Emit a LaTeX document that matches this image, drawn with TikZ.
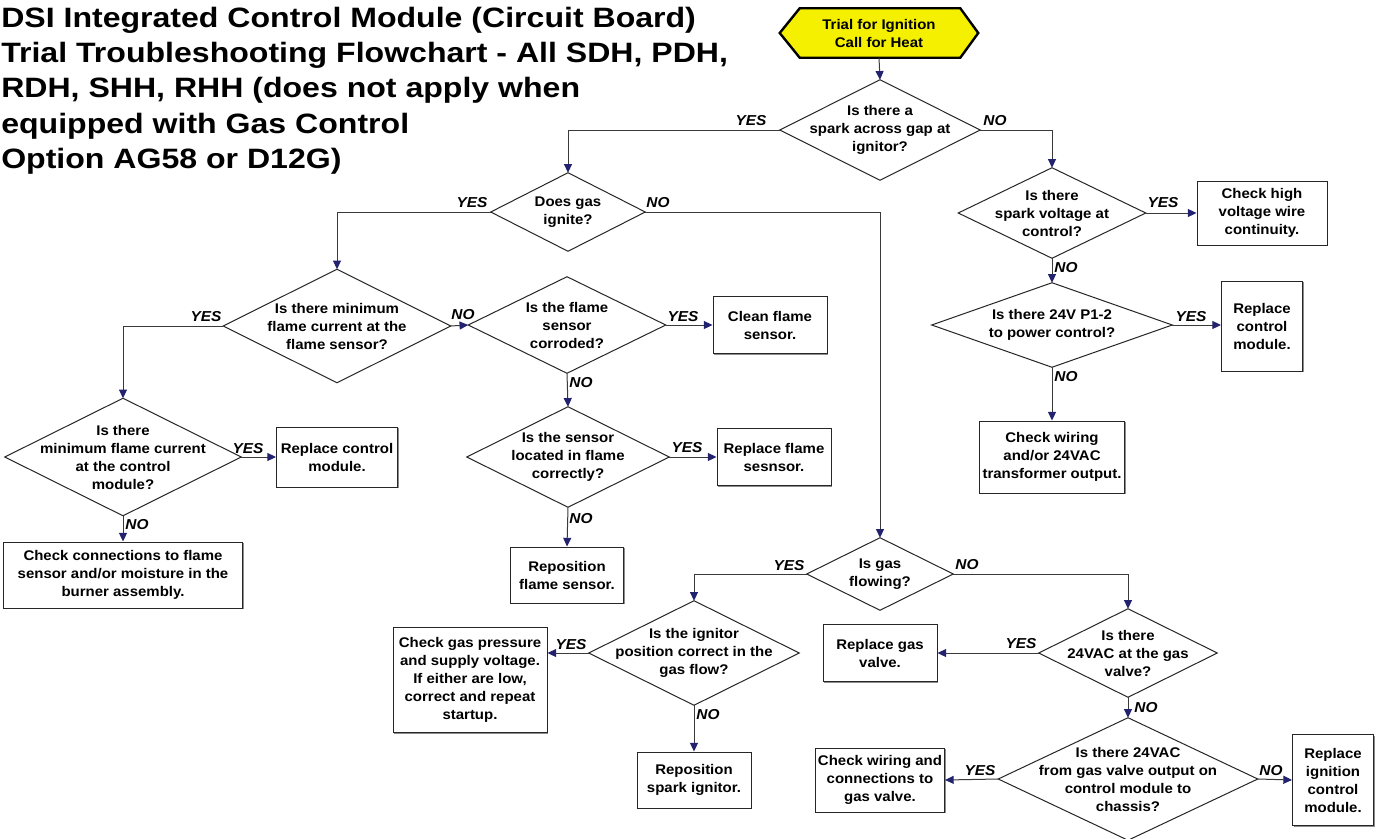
\documentclass[tikz,border=0pt]{standalone}
\usepackage{fontspec}
\setmainfont{Liberation Sans}[FakeStretch=1.07]
\newfontfamily\titlefont{Liberation Sans}[FakeStretch=1.145]
\usetikzlibrary{arrows.meta,calc,backgrounds,shadows}
\definecolor{tipblue}{HTML}{22226E}
\definecolor{linegray}{HTML}{3A3A3A}
\definecolor{hexyellow}{HTML}{F5F000}
\begin{document}
\begin{tikzpicture}[x=0.75pt,y=-0.75pt,
  txt/.style={font=\fontsize{10.5pt}{13.5pt}\selectfont\bfseries, align=center, inner sep=0pt},
  dia/.style 2 args={txt, minimum width=#1*0.75pt, minimum height=#2*0.75pt},
  box/.style 2 args={txt, draw=black!85, line width=0.75pt, fill=white,
     drop shadow={shadow xshift=0.9pt, shadow yshift=-0.9pt, fill=black!45, opacity=1},
     minimum width=#1*0.75pt, minimum height=#2*0.75pt},
  lab/.style={font=\fontsize{10.8pt}{12pt}\selectfont\bfseries\itshape, inner sep=0pt},
  conn/.style={draw=linegray, line width=0.75pt, -{Triangle[length=6.5pt,width=6pt,fill=tipblue,color=tipblue]}},
  diaedge/.style={draw=black!85, line width=0.75pt, line join=miter},
]
\useasboundingbox (0,0) rectangle (1386,839);

% title
\node[font=\titlefont\bfseries\fontsize{21pt}{26.6pt}\selectfont, align=left, anchor=north west, inner sep=0pt] (title) at (1,6.5)
 {DSI Integrated Control Module (Circuit Board)\\Trial Troubleshooting Flowchart - All SDH, PDH,\\RDH, SHH, RHH (does not apply when\\equipped with Gas Control\\Option AG58 or D12G)};

% start
\node[dia={198}{49}] (start) at (879,33) {Trial for Ignition\\Call for Heat};

% decisions
\node[dia={200}{100}] (d1) at (880,130) {Is there a\\spark across gap at\\ignitor?};
\node[dia={154}{78}] (d2) at (568,212) {Does gas\\ignite?};
\node[dia={187}{90}] (d3) at (1052,213) {Is there\\spark voltage at\\control?};
\node[dia={240}{84}] (d4) at (1052,325) {Is there 24V P1-2\\to power control?};
\node[dia={227}{113}] (d5) at (337,326) {Is there minimum\\flame current at the\\flame sensor?};
\node[dia={236}{117}] (d6) at (123,457) {Is there\\minimum flame current\\at the control\\module?};
\node[dia={197}{96}] (d7) at (567,325) {Is the flame\\sensor\\corroded?};
\node[dia={202}{100}] (d8) at (568,457) {Is the sensor\\located in flame\\correctly?};
\node[dia={146}{72}] (d9) at (880,574) {Is gas\\flowing?};
\node[dia={178}{88}] (d10) at (1128,653) {Is there\\24VAC at the gas\\valve?};
\node[dia={259}{122}] (d11) at (1128,779) {Is there 24VAC\\from gas valve output on\\control module to\\chassis?};
\node[dia={210}{104}] (d12) at (694,653) {Is the ignitor\\position correct in the\\gas flow?};

\foreach \n in {d1,d2,d3,d4,d5,d6,d7,d8,d9,d10,d11,d12}
  \draw[diaedge] (\n.north) -- (\n.east) -- (\n.south) -- (\n.west) -- cycle;

% boxes
\node[box={130}{64}] (b1) at (1262,213) {Check high\\voltage wire\\continuity.};
\node[box={81}{90}] (b2) at (1262,326) {Replace\\control\\module.};
\node[box={145}{72}] (b3) at (1052,457) {Check wiring\\and/or 24VAC\\transformer output.};
\node[box={121}{60}] (b4) at (337,457) {Replace control\\module.};
\node[box={239}{66}] (b5) at (123,575) {Check connections to flame\\sensor and/or moisture in the\\burner assembly.};
\node[box={114}{57}] (b6) at (770,325) {Clean flame\\sensor.};
\node[box={114}{57}] (b7) at (774,457) {Replace flame\\sesnsor.};
\node[box={113}{56}] (b8) at (567,575) {Reposition\\flame sensor.};
\node[box={154}{105}] (b9) at (470,680) {Check gas pressure\\and supply voltage.\\If either are low,\\correct and repeat\\startup.};
\node[box={114}{56}] (b10) at (694,780) {Reposition\\spark ignitor.};
\node[box={114}{57}] (b11) at (880,653) {Replace gas\\valve.};
\node[box={129}{64}] (b12) at (880,780) {Check wiring and\\connections to\\gas valve.};
\node[box={81}{91}] (b13) at (1333,780) {Replace\\ignition\\control\\module.};

% hexagon behind start text
\begin{scope}[on background layer]
\fill[white] (0,0) rectangle (1386,839);
\draw[line width=1.8pt, fill=hexyellow, line join=miter]
  (start.west) -- ($(start.north west)+(20,0)$) -- ($(start.north east)+(-18,0)$) -- (start.east)
  -- ($(start.south east)+(-18,0)$) -- ($(start.south west)+(20,0)$) -- cycle;
\end{scope}

% connectors
\draw[conn] (start.south) -- (d1.north);
\draw[conn] (d1.west) -| (d2.north);
\draw[conn] (d1.east) -| (d3.north);
\draw[conn] (d2.west) -| (d5.north);
\draw[conn] (d2.east) -| (d9.north);
\draw[conn] (d3.east) -- (b1.west);
\draw[conn] (d3.south) -- (d4.north);
\draw[conn] (d4.east) -- (d4.east -| b2.west);
\draw[conn] (d4.south) -- (b3.north);
\draw[conn] (d5.west) -| (d6.north);
\draw[conn] (d5.east) -- (d7.west);
\draw[conn] (d6.east) -- (b4.west);
\draw[conn] (d6.south) -- (b5.north);
\draw[conn] (d7.east) -- (b6.west);
\draw[conn] (d7.south) -- (d8.north);
\draw[conn] (d8.east) -- (b7.west);
\draw[conn] (d8.south) -- (b8.north);
\draw[conn] (d9.west) -| (d12.north);
\draw[conn] (d9.east) -| (d10.north);
\draw[conn] (d12.west) -- (d12.west -| b9.east);
\draw[conn] (d12.south) -- (b10.north);
\draw[conn] (d10.west) -- (b11.east);
\draw[conn] (d10.south) -- (d11.north);
\draw[conn] (d11.west) -- (b12.east);
\draw[conn] (d11.east) -- (b13.west);

% labels
\node[lab] (l1) at (751,121) {YES};
\node[lab] (l2) at (995,121) {NO};
\node[lab] (l3) at (472,203) {YES};
\node[lab] (l4) at (658,203) {NO};
\node[lab] (l5) at (206,317) {YES};
\node[lab] (l6) at (463,315) {NO};
\node[lab] (l7) at (683,317) {YES};
\node[lab] (l8) at (581,383) {NO};
\node[lab] (l9) at (687,448) {YES};
\node[lab] (l10) at (581,519) {NO};
\node[lab] (l11) at (248,449) {YES};
\node[lab] (l12) at (137,525) {NO};
\node[lab] (l13) at (1163,203) {YES};
\node[lab] (l14) at (1066,268) {NO};
\node[lab] (l15) at (1191,317) {YES};
\node[lab] (l16) at (1066,377) {NO};
\node[lab] (l17) at (789,566) {YES};
\node[lab] (l18) at (967,565) {NO};
\node[lab] (l19) at (571,645) {YES};
\node[lab] (l20) at (708,715) {NO};
\node[lab] (l21) at (1021,644) {YES};
\node[lab] (l22) at (1146,708) {NO};
\node[lab] (l23) at (980,771) {YES};
\node[lab] (l24) at (1271,771) {NO};
\end{tikzpicture}
\end{document}
